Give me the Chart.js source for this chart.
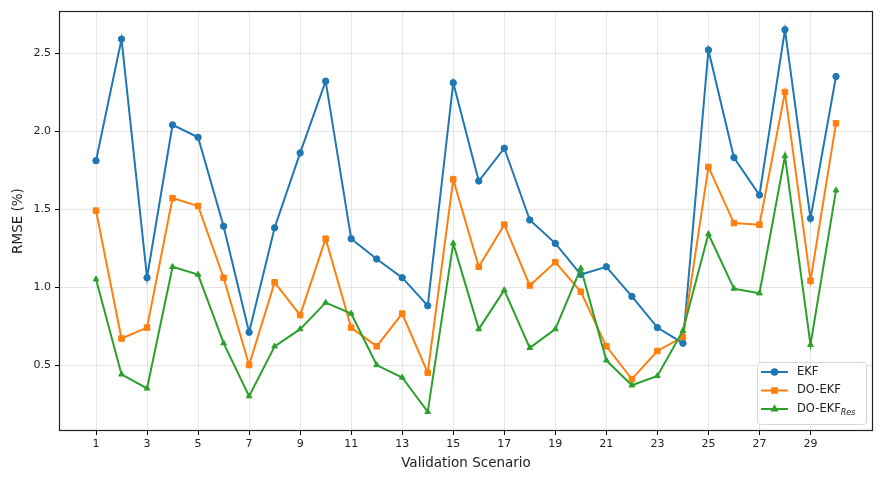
<!DOCTYPE html>
<html>
<head>
<meta charset="utf-8">
<script src="https://cdn.jsdelivr.net/npm/chart.js@4/dist/chart.umd.min.js"></script>
<style>
  html, body { margin: 0; padding: 0; background: #fff; }
  #wrap { width: 882px; height: 477px; }
</style>
</head>
<body>
<div id="wrap"><canvas id="chart"></canvas></div>
<script>
// values
const scenarios = [1,2,3,4,5,6,7,8,9,10,11,12,13,14,15,16,17,18,19,20,21,22,23,24,25,26,27,28,29,30];
const ekf = [1.81,2.59,1.06,2.04,1.96,1.39,0.71,1.38,1.86,2.32,1.31,1.18,1.06,0.88,2.31,1.68,1.89,1.43,1.28,1.08,1.13,0.94,0.74,0.64,2.52,1.83,1.59,2.65,1.44,2.35];
const doEkf = [1.49,0.67,0.74,1.57,1.52,1.06,0.50,1.03,0.82,1.31,0.74,0.62,0.83,0.45,1.69,1.13,1.40,1.01,1.16,0.97,0.62,0.41,0.59,0.68,1.77,1.41,1.40,2.25,1.04,2.05];
const doEkfRes = [1.05,0.44,0.35,1.13,1.08,0.64,0.30,0.62,0.73,0.90,0.83,0.50,0.42,0.20,1.28,0.73,0.98,0.61,0.73,1.12,0.53,0.37,0.43,0.72,1.34,0.99,0.96,1.84,0.63,1.62];
const xTicks = [1,3,5,7,9,11,13,15,17,19,21,23,25,27,29];
const yTicks = [0.5,1.0,1.5,2.0,2.5];

const FONT = 'DejaVu Sans';
const pts = arr => arr.map((v, i) => ({ x: scenarios[i], y: v }));

const series = [
    { label: 'EKF', sub: '', color: '#1f77b4', style: 'circle', r: 3.2, lr: 2.8, data: ekf, order: 3 },
    { label: 'DO-EKF', sub: '', color: '#ff7f0e', style: 'rect', r: 3.9, lr: 3.3, data: doEkf, order: 2 },
    { label: 'DO-EKF', sub: 'Res', color: '#2ca02c', style: 'triangle', r: 3.3, lr: 2.8, data: doEkfRes, order: 1 }
];

// matplotlib-like frame + legend in the lower right
const frame = {
    id: 'frame',
    afterDraw(chart) {
        const { ctx, chartArea: a } = chart;
        ctx.save();
        ctx.strokeStyle = '#222';
        ctx.lineWidth = 1.2;
        ctx.strokeRect(a.left + 0.5, a.top + 0.5, a.right - a.left - 1, a.bottom - a.top - 1);

        const bx = a.right - 116, by = a.bottom - 69, bw = 109, bh = 62;
        ctx.fillStyle = 'rgba(255,255,255,0.8)';
        ctx.strokeStyle = '#d6d6d6';
        ctx.lineWidth = 1;
        ctx.beginPath();
        ctx.roundRect(bx + 0.5, by + 0.5, bw, bh, 3);
        ctx.fill(); ctx.stroke();

        series.forEach((s, i) => {
            const y = by + 10 + i * 18.5;
            ctx.strokeStyle = s.color;
            ctx.lineWidth = 2;
            ctx.beginPath();
            ctx.moveTo(bx + 4, y); ctx.lineTo(bx + 31, y);
            ctx.stroke();
            ctx.fillStyle = s.color;
            Chart.helpers.drawPoint(ctx, { pointStyle: s.style, radius: s.lr, borderWidth: 1 }, bx + 17.5, y);
            ctx.fillStyle = '#222';
            ctx.textBaseline = 'middle';
            ctx.font = `11.5px ${FONT}`;
            ctx.fillText(s.label, bx + 40, y);
            if (s.sub) {
                const w = ctx.measureText(s.label).width;
                ctx.font = `italic 8px ${FONT}`;
                ctx.fillText(s.sub, bx + 40 + w, y + 4);
            }
        });
        ctx.restore();
    }
};

new Chart(document.getElementById('chart'), {
    type: 'line',
    data: {
        datasets: series.map(s => ({
            label: s.label + s.sub,
            data: pts(s.data),
            borderColor: s.color,
            backgroundColor: s.color,
            borderWidth: 2,
            pointStyle: s.style,
            pointRadius: s.r,
            pointHoverRadius: s.r,
            pointBorderWidth: 1,
            tension: 0,
            order: s.order
        }))
    },
    options: {
        responsive: true,
        maintainAspectRatio: false,
        animation: false,
        events: [],
        layout: { padding: { left: 0, top: 11, right: 9, bottom: 0 } },
        plugins: { legend: { display: false }, tooltip: { enabled: false } },
        scales: {
            x: {
                type: 'linear',
                min: -0.45,
                max: 31.45,
                afterBuildTicks: s => { s.ticks = xTicks.map(v => ({ value: v })); },
                afterFit: s => { s.height = 46; },
                ticks: { color: '#222', font: { family: FONT, size: 11 }, padding: 3, maxRotation: 0 },
                grid: { color: 'rgba(176,176,176,0.3)', tickColor: '#000', tickLength: 4 },
                border: { display: false },
                title: { display: true, text: 'Validation Scenario', color: '#222', font: { family: FONT, size: 13.5 }, padding: { top: 2, bottom: 5 } }
            },
            y: {
                min: 0.077,
                max: 2.77,
                afterBuildTicks: s => { s.ticks = yTicks.map(v => ({ value: v })); },
                afterFit: s => { s.width = 59; },
                ticks: { color: '#222', font: { family: FONT, size: 11 }, padding: 4, callback: v => v.toFixed(1) },
                grid: { color: 'rgba(176,176,176,0.3)', tickColor: '#000', tickLength: 4 },
                border: { display: false },
                title: { display: true, text: 'RMSE (%)', color: '#222', font: { family: FONT, size: 13.5 }, padding: { top: 10, bottom: 4 } }
            }
        }
    },
    plugins: [frame]
});
</script>
</body>
</html>
